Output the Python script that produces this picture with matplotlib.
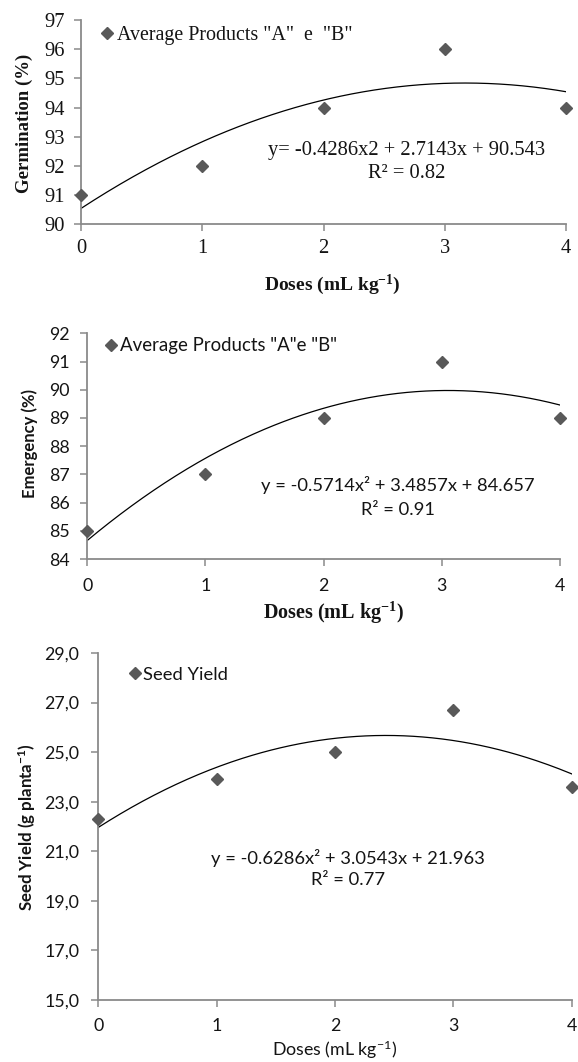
import numpy as np
import matplotlib
matplotlib.use("Agg")
import matplotlib.pyplot as plt
from matplotlib.font_manager import FontProperties

plt.rcParams['mathtext.fontset'] = 'custom'
plt.rcParams['mathtext.bf'] = 'Liberation Serif:bold'
plt.rcParams['mathtext.sf'] = 'Lato:bold'
plt.rcParams['mathtext.rm'] = 'Lato'

# ---------------- data ----------------
doses = [0, 1, 2, 3, 4]
germination = [91, 92, 94, 96, 94]
emergency = [85, 87, 89, 91, 89]
seed_yield = [22.3, 23.9, 25.0, 26.7, 23.6]

coef_germ = [-0.4286, 2.7143, 90.543]
coef_emer = [-0.5714, 3.4857, 84.657]
coef_seed = [-0.6286, 3.0543, 21.963]

eq_germ = ['y= -0.4286x2 + 2.7143x + 90.543', 'R² = 0.82']
eq_emer = ['y = -0.5714x² + 3.4857x + 84.657', 'R² = 0.91']
eq_seed = ['y = -0.6286x² + 3.0543x + 21.963', 'R² = 0.77']

legend_germ = 'Average Products "A"  e  "B"'
legend_emer = 'Average Products "A"e "B"'
legend_seed = 'Seed Yield'

yticks_germ = [90, 91, 92, 93, 94, 95, 96, 97]
yticks_emer = [84, 85, 86, 87, 88, 89, 90, 91, 92]
yticks_seed = [15.0, 17.0, 19.0, 21.0, 23.0, 25.0, 27.0, 29.0]

W, H = 578, 1062
fig = plt.figure(figsize=(W / 100, H / 100), dpi=100)

SPINE = '#8a8a8a'
MARK = '#595959'
TXT = '#141414'


def px_axes(l, r, t, b):
    return fig.add_axes([l / W, 1 - b / H, (r - l) / W, (b - t) / H])


def style(ax, ylim, yticks, ylabels, fam, tsize, ypad, xpad):
    ax.set_xlim(0, 4)
    ax.set_ylim(*ylim)
    ax.set_xticks(doses)
    ax.set_xticklabels([str(d) for d in doses])
    ax.set_yticks(yticks)
    ax.set_yticklabels(ylabels)
    for s in ['top', 'right']:
        ax.spines[s].set_visible(False)
    for s in ['left', 'bottom']:
        ax.spines[s].set_color(SPINE)
        ax.spines[s].set_linewidth(1.3)
    ax.tick_params(axis='y', direction='out', length=4.8, width=1.1, color=SPINE, pad=ypad)
    ax.tick_params(axis='x', direction='out', length=4.8, width=1.1, color=SPINE, pad=xpad)
    for lab in ax.get_xticklabels() + ax.get_yticklabels():
        lab.set_fontfamily(fam)
        lab.set_fontsize(tsize)
        lab.set_color(TXT)


def legend(ax, label, mx, my, fam, size):
    fp = FontProperties(family=fam, size=size)
    leg = ax.legend(loc='center left', bbox_to_anchor=(mx, my), frameon=False,
                    handlelength=0.45, handletextpad=0.25, borderpad=0,
                    borderaxespad=0, prop=fp, markerscale=1.0)
    for t in leg.get_texts():
        t.set_color(TXT)


xs = np.linspace(0, 4, 300)
SERIF = 'Liberation Serif'
SANS = 'Lato'

# ---------------- panel 1: germination ----------------
ax1 = px_axes(81, 566, 20, 224.3)
ax1.plot(doses, germination, 'D', color=MARK, ms=6.3, label=legend_germ, zorder=3, clip_on=False)
ax1.plot(xs, np.polyval(coef_germ, xs), color='black', lw=0.9, zorder=2)
style(ax1, (90, 97), yticks_germ, [str(v) for v in yticks_germ], SERIF, 14.8, 6.5, 6)
legend(ax1, legend_germ, 0.045, 0.924, SERIF, 14.4)
ax1.text(0.672, 0.362, eq_germ[0], transform=ax1.transAxes, ha='center', va='center',
         fontfamily=SERIF, fontsize=14.8, color=TXT)
ax1.text(0.672, 0.248, eq_germ[1], transform=ax1.transAxes, ha='center', va='center',
         fontfamily=SERIF, fontsize=14.8, color=TXT)
fig.text(332 / W, 1 - 285 / H, r'Doses (mL kg$\mathbf{^{-1}}$)', ha='center', va='center',
         fontfamily=SERIF, fontweight='bold', fontsize=14, color=TXT)
fig.text(24.6 / W, 1 - 123.8 / H, 'Germination (%)', ha='center', va='center', rotation=90,
         fontfamily=SERIF, fontweight='bold', fontsize=13.5, color=TXT)

# ---------------- panel 2: emergency ----------------
ax2 = px_axes(87.3, 560, 333.3, 559)
ax2.plot(doses, emergency, 'D', color=MARK, ms=6.3, label=legend_emer, zorder=3, clip_on=False)
ax2.plot(xs, np.polyval(coef_emer, xs), color='black', lw=0.9, zorder=2)
style(ax2, (84, 92), yticks_emer, [str(v) for v in yticks_emer], SANS, 12.8, 8, 9)
legend(ax2, legend_emer, 0.041, 0.944, SANS, 13.4)
ax2.text(0.657, 0.328, eq_emer[0], transform=ax2.transAxes, ha='center', va='center',
         fontfamily=SANS, fontsize=13.2, color=TXT)
ax2.text(0.657, 0.217, eq_emer[1], transform=ax2.transAxes, ha='center', va='center',
         fontfamily=SANS, fontsize=13.2, color=TXT)
fig.text(333.6 / W, 1 - 612.7 / H, r'Doses (mL kg$\mathbf{^{-1}}$)', ha='center', va='center',
         fontfamily=SERIF, fontweight='bold', fontsize=14.5, color=TXT)
fig.text(29.9 / W, 1 - 443 / H, 'Emergency (%)', ha='center', va='center', rotation=90,
         fontfamily=SANS, fontweight='bold', fontsize=12, color=TXT)

# ---------------- panel 3: seed yield ----------------
ax3 = px_axes(98.3, 571.7, 653, 1000)
ax3.plot(doses, seed_yield, 'D', color=MARK, ms=6.3, label=legend_seed, zorder=3, clip_on=False)
ax3.plot(xs, np.polyval(coef_seed, xs), color='black', lw=0.9, zorder=2)
style(ax3, (15, 29), yticks_seed, [f'{v:.1f}'.replace('.', ',') for v in yticks_seed], SANS, 12.8, 9, 8)
legend(ax3, legend_seed, 0.068, 0.937, SANS, 13.2)
ax3.text(0.5275, 0.409, eq_seed[0], transform=ax3.transAxes, ha='center', va='center',
         fontfamily=SANS, fontsize=13.2, color=TXT)
ax3.text(0.5275, 0.346, eq_seed[1], transform=ax3.transAxes, ha='center', va='center',
         fontfamily=SANS, fontsize=13.2, color=TXT)
fig.text(335 / W, 1 - 1050 / H, r'Doses (mL kg$\mathrm{^{-1}}$)', ha='center', va='center',
         fontfamily=SANS, fontsize=12.8, color=TXT)
fig.text(27 / W, 1 - 827 / H, r'Seed Yield (g planta$\mathsf{^{-1}}$)', ha='center', va='center',
         rotation=90, fontfamily=SANS, fontweight='bold', fontsize=12.2, color=TXT)

fig.savefig('out.png', dpi=100)
